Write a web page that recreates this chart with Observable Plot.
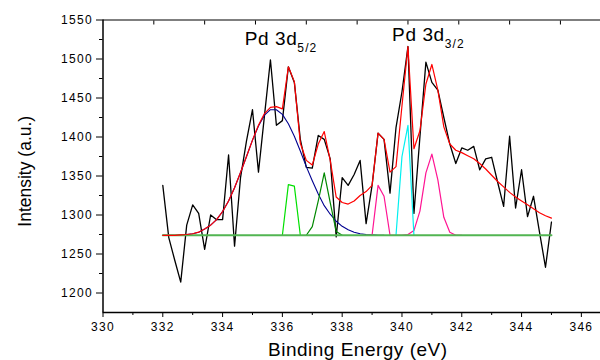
<!DOCTYPE html>
<html><head><meta charset="utf-8">
<script src="https://cdn.jsdelivr.net/npm/d3@7"></script>
<script src="https://cdn.jsdelivr.net/npm/@observablehq/plot@0.6"></script>
<style>
html,body{margin:0;padding:0;background:#fff;}
svg text{letter-spacing:1.3px;}
</style>
</head><body><div id="chart"></div>
<script>
// ---- data ----
const rawE = [332.0,332.2,332.4,332.6,332.8,333.0,333.2,333.4,333.6,333.8,
  334.0,334.2,334.4,334.6,334.8,335.0,335.2,335.4,335.6,335.8,
  336.0,336.2,336.4,336.6,336.8,337.0,337.2,337.4,337.6,337.8,
  338.0,338.2,338.4,338.6,338.8,339.0,339.2,339.4,339.6,339.8,
  340.0,340.2,340.4,340.6,340.8,341.0,341.2,341.4,341.6,341.8,
  342.0,342.2,342.4,342.6,342.8,343.0,343.2,343.4,343.6,343.8,
  344.0,344.2,344.4,344.6,344.8,345.0];
const rawI = [1338,1271,1242,1214,1287,1313,1302,1256,1300,1294,
  1294,1377,1260,1348,1395,1435,1355,1427,1499,1415,
  1421,1490,1470,1397,1361,1360,1402,1397,1372,1272,
  1348,1338,1352,1370,1289,1338,1405,1397,1328,1412,
  1458,1516,1302,1400,1496,1470,1460,1425,1391,1366,
  1386,1383,1388,1358,1372,1374,1342,1311,1401,1309,
  1358,1298,1324,1278,1233,1291];
const envI = [1274,1274,1274,1274.5,1275,1276,1278,1282,1287,1294,
  1304.5,1318,1335,1354.5,1375,1396,1415,1430,1438,1439,
  1436,1490,1471,1392,1370,1364,1391,1407,1370,1323,
  1316,1314,1318,1325,1330,1338,1405,1397,1355,1362,
  1440,1516,1385,1408,1468,1493,1460,1413,1391,1383,
  1380,1376,1372,1366,1359,1351,1343,1336,1329,1323,
  1318,1313,1308,1303,1299,1296];
const broadE = [332.0,332.2,332.4,332.6,332.8,333.0,333.2,333.4,333.6,333.8,
  334.0,334.2,334.4,334.6,334.8,335.0,335.2,335.4,335.6,335.8,
  336.0,336.2,336.4,336.6,336.8,337.0,337.2,337.4,337.6,337.8,
  338.0,338.2,338.4,338.6,338.8,339.0,339.2,339.4];
const broadI = [1274,1274,1274,1274.5,1275,1276,1278,1282,1287,1294,
  1304.5,1318,1335,1354.5,1375,1396,1414,1428,1435,1435,
  1429,1417,1401,1382,1362,1344,1327,1312,1301,1292,
  1285.5,1281,1278,1276,1275,1274.5,1274,1274];
const lgE = [336.0,336.2,336.4,336.6];
const lgI = [1274,1339,1337,1274];
const dgE = [336.8,337.0,337.2,337.4,337.6,337.8,338.0];
const dgI = [1274,1285,1318,1354,1316,1279,1274];
const cyE = [339.8,340.0,340.2,340.4];
const cyI = [1274,1375,1415,1274];
const pkE = [338.8,339.0,339.2,339.4,339.6,339.8,340.0,340.2,340.4,340.6,340.8,341.0,341.2,341.4,341.6,341.8,342.0];
const pkI = [1274,1274,1338,1324,1274,1274,1274,1275,1280,1305,1354,1378,1345,1297,1278,1274,1274];
const baseE = [332.0,345.0];
const baseI = [1274,1274];

const xMajor = [330,332,334,336,338,340,342,344,346];
const xMinor = [331,333,335,337,339,341,343,345];
const xTop = [331.7,333.4,335.1,336.8,338.5,340.2,341.9,343.6,345.3];
const yMajor = [1200,1250,1300,1350,1400,1450,1500,1550];
const yMinor = [1225,1275,1325,1375,1425,1475,1525];

const peakText = ["Pd 3d","Pd 3d"];
const peakSub = ["5/2","3/2"];
const peakE = [334.74,339.67];
const peakI = [1518,1523];
const xTitle = "Binding Energy (eV)";
const yTitle = "Intensity (a.u.)";

const pts = (E, I) => E.map((e, i) => ({e, v: I[i]}));

const chart = Plot.plot({
  width: 600, height: 360,
  marginLeft: 102.5, marginRight: 0, marginTop: 19.5, marginBottom: 48,
  style: {fontFamily: "'Liberation Sans', Arial, sans-serif", fontSize: "12px", background: "#fff", color: "#000"},
  x: {domain: [330, 346.64], axis: null},
  y: {domain: [1175, 1550], axis: null},
  marks: [
    Plot.line(pts(rawE, rawI), {x: "e", y: "v", stroke: "#000", strokeWidth: 1.3}),
    Plot.line(pts(broadE, broadI), {x: "e", y: "v", stroke: "#000090", strokeWidth: 1.1}),
    Plot.line(pts(lgE, lgI), {x: "e", y: "v", stroke: "#00e000", strokeWidth: 1.2}),
    Plot.line(pts(dgE, dgI), {x: "e", y: "v", stroke: "#008800", strokeWidth: 1.2}),
    Plot.line(pts(pkE, pkI), {x: "e", y: "v", stroke: "#ff1493", strokeWidth: 1.2}),
    Plot.line(pts(cyE, cyI), {x: "e", y: "v", stroke: "#00f0f0", strokeWidth: 1.2}),
    Plot.line(pts(baseE, baseI), {x: "e", y: "v", stroke: "#52b552", strokeWidth: 2}),
    Plot.line(pts(rawE, envI), {x: "e", y: "v", stroke: "#ff0000", strokeWidth: 1.2}),
    // frame lines
    Plot.ruleY([1175], {stroke: "#000", strokeWidth: 1.5}),
    Plot.ruleY([1550], {stroke: "#000", strokeWidth: 1.2}),
    Plot.ruleX([330], {stroke: "#000", strokeWidth: 1.5}),
    // axes
    Plot.axisX(xMajor, {anchor: "bottom", tickSize: 5, tickPadding: 5, tickFormat: d => String(d), label: null, fontSize: 12}),
    Plot.axisX(xMinor, {anchor: "bottom", tickSize: 3, text: null, label: null}),
    Plot.axisX(xTop, {anchor: "top", tickSize: -4, text: null, label: null}),
    Plot.axisY(yMajor, {anchor: "left", tickSize: 6.5, tickPadding: 3.6, tickFormat: d => String(d), label: null, fontSize: 12}),
    Plot.axisY(yMinor, {anchor: "left", tickSize: 3.5, text: null, label: null}),
    // titles
    Plot.text([xTitle], {frameAnchor: "bottom", textAnchor: "middle", lineAnchor: "bottom", dx: 6, dy: 43, fontSize: 19}),
    Plot.text([yTitle], {frameAnchor: "left", textAnchor: "middle", lineAnchor: "bottom", rotate: -90, dx: -72.5, dy: 5, fontSize: 17.5}),
    Plot.text(peakText.map((t, i) => ({t, e: peakE[i], v: peakI[i]})), {x: "e", y: "v", text: "t", textAnchor: "start", lineAnchor: "bottom", fontSize: 19})
  ]
});
document.getElementById("chart").appendChild(chart);

// subscripts and spacing tweaks, found by text content
let k = 0;
chart.querySelectorAll("text").forEach(node => {
  const t = node.textContent;
  if (t === "Pd 3d") {
    node.style.letterSpacing = "0.6px";
    const ts = document.createElementNS("http://www.w3.org/2000/svg", "tspan");
    ts.setAttribute("dy", "7");
    ts.setAttribute("font-size", "12");
    ts.style.letterSpacing = "1.1px";
    ts.textContent = peakSub[k++];
    node.appendChild(ts);
  } else if (t === xTitle) {
    node.style.letterSpacing = "0.5px";
  } else if (t === yTitle) {
    node.style.letterSpacing = "0px";
  }
});
</script>
</body></html>
